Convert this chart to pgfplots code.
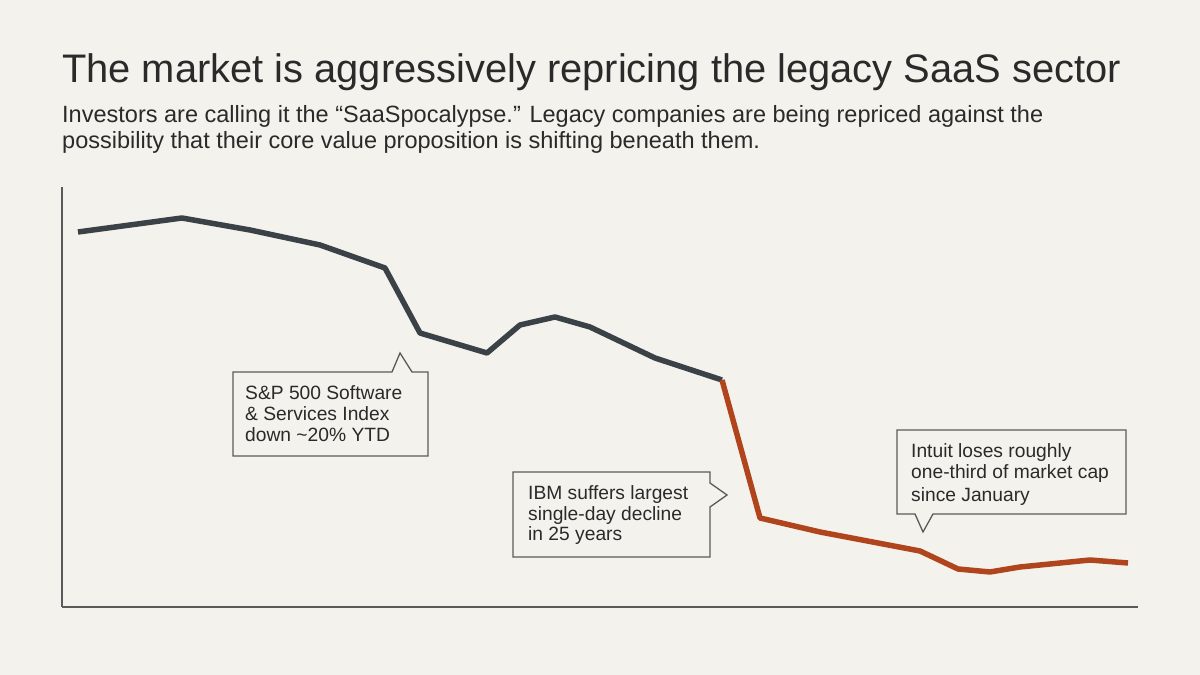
\documentclass[border=0pt]{standalone}
\usepackage{pgfplots}
\pgfplotsset{compat=1.18}
\usepackage{fontspec}
\setmainfont{Liberation Sans}
\definecolor{bg}{HTML}{F4F2EC}
\definecolor{dark}{HTML}{3A4147}
\definecolor{rust}{HTML}{B0451D}
\definecolor{axgray}{HTML}{5A5A5A}
\definecolor{txt}{HTML}{2A2A2A}
\begin{document}
\begin{tikzpicture}[x=1bp,y=1bp]
\fill[bg] (0,0) rectangle (1200,675);
\begin{axis}[
  at={(62bp,68bp)}, anchor=origin,
  width=1076bp, height=420bp, scale only axis,
  xmin=62, xmax=1138, ymin=68, ymax=488,
  axis x line=bottom, axis y line=left,
  axis line style={axgray, line width=1.5bp, -},
  xtick=\empty, ytick=\empty,
  clip=false,
]
\addplot[dark, line width=5.5bp, line join=round] coordinates {
(78,443) (182,457) (250,445) (320,430) (385,407) (420,342) (487,322) (520,350) (555,358) (590,348) (655,317) (722,295)
};
\addplot[rust, line width=5.5bp, line join=round] coordinates {
(722,295) (760,157) (820,143) (920,124) (958,106) (990,103) (1020,108) (1090,115) (1128,112)
};
\end{axis}
% callouts
\draw[axgray, line width=1.3bp, fill=bg] (233,303) -- (392,303) -- (400,322) -- (412,303) -- (428,303) -- (428,219) -- (233,219) -- cycle;
\draw[axgray, line width=1.3bp, fill=bg] (513,203) -- (710,203) -- (710,192) -- (727,180) -- (710,168) -- (710,118) -- (513,118) -- cycle;
\draw[axgray, line width=1.3bp, fill=bg] (897,245) -- (1126,245) -- (1126,161) -- (933,161) -- (923,143) -- (915,161) -- (897,161) -- cycle;
\begin{scope}[every node/.style={anchor=base west, inner sep=0pt, text=txt, font=\fontsize{19.3}{22}\selectfont}]
\node at (245,275) {S\&P 500 Software};
\node at (245,254) {\& Services Index};
\node at (245,233) {down \textasciitilde20\% YTD};
\node at (528,175) {IBM suffers largest};
\node at (528,154) {single-day decline};
\node at (528,134) {in 25 years};
\node at (911,217) {Intuit loses roughly};
\node at (911,196) {one-third of market cap};
\node at (911,173) {since January};
\end{scope}
\node[anchor=base west, inner sep=0pt, text=txt, font=\fontsize{40}{46}\selectfont] at (62,592) {The market is aggressively repricing the legacy SaaS sector};
\node[anchor=base west, inner sep=0pt, text=txt, font=\fontsize{23.6}{28}\selectfont] at (62,552) {Investors are calling it the “SaaSpocalypse.” Legacy companies are being repriced against the};
\node[anchor=base west, inner sep=0pt, text=txt, font=\fontsize{23.6}{28}\selectfont] at (62,526) {possibility that their core value proposition is shifting beneath them.};
\end{tikzpicture}
\end{document}
